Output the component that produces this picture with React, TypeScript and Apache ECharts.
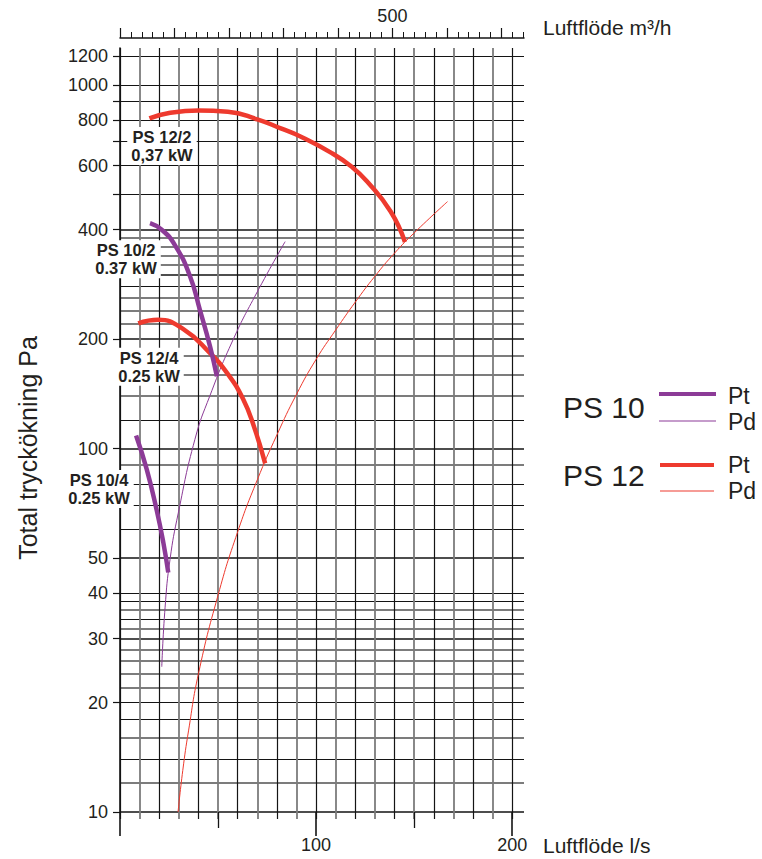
import React, { useEffect, useRef } from "react";
import * as echarts from "echarts";

// ---- data (l/s, Pa) ----
const ps12_2_pt = [[15, 810], [25, 838], [40, 852], [55, 845], [70, 805], [82, 760], [92, 722], [108, 650], [118, 597], [126, 543], [138, 449], [145.3, 370]];
const ps12_4_pt = [[9.3, 221], [19.5, 226], [32.3, 213], [45.9, 183], [55.1, 160], [62.7, 137], [68.3, 115], [74, 91]];
const ps12_pd = [[29.6, 10], [32, 13], [35, 16.8], [40, 24], [50, 39.5], [60, 59], [70, 82], [80, 109], [90, 141], [100, 176], [110, 212], [120, 253], [130, 298], [140, 345], [150, 392], [167, 478]];
const ps10_2_pt = [[15.3, 417], [21.3, 400], [28, 363], [35.7, 298], [40.8, 240], [45.9, 191], [49.4, 158]];
const ps10_4_pt = [[8.2, 108.7], [13.6, 87.8], [18.7, 67.7], [22.1, 55.1], [24.6, 45.6]];
const ps10_pd = [[21.3, 25.1], [23, 36.6], [25.5, 49.5], [29.7, 66.4], [38.2, 106], [45.9, 140], [57.8, 200], [69.7, 268], [84.2, 371]];

const curveLabels = ["PS 12/2\n0,37 kW", "PS 10/2\n0.37 kW", "PS 12/4\n0.25 kW", "PS 10/4\n0.25 kW"];

// ---- axis ticks / grid values ----
const yLabelValues = [10, 20, 30, 40, 50, 100, 200, 400, 600, 800, 1000, 1200];
const yTickValues = [10, 20, 30, 40, 50, 100, 200, 400, 500, 600, 700, 800, 900, 1000, 1200];
const yGridDark = [10, 30, 50, 100, 200, 300, 400];
const yGridBlack = [14, 18, 20, 34, 38, 40, 60, 70, 80, 120, 280, 500, 600, 700, 800, 900, 1000, 1200];
const yGridGray = [12, 16, 22, 24, 26, 28, 32, 36, 90, 140, 160, 180, 220, 240, 260, 320, 340, 360, 380];

const flowBlack = [0, 20, 40, 60, 80, 100, 120, 140, 160, 180, 200];
const flowGray = [10, 30, 50, 70, 90, 110, 130, 150, 170, 190];
const flowMid = [50, 150];
const flowMajor = [0, 100, 200];
const flowLabels = [100, 200];
const m3hMajor = [0, 100, 200, 300, 400, 500, 600, 700];
const m3hMinor = [20, 40, 60, 80, 120, 140, 160, 180, 220, 240, 260, 280, 320, 340, 360, 380, 420, 440, 460, 480, 520, 540, 560, 580, 620, 640, 660, 680, 720, 740];
const m3hLabels = [500];

const FLOW_MAX = 206;
const Y_MIN = 10;
const Y_MAX = 1265;

const FONT = '"Liberation Sans", Arial, Helvetica, sans-serif';
const TXT = "#231f20";
const RED = "#ee3a2e";
const PURPLE = "#8c3b97";
const C_BLACK = "#141414";
const C_GRAY = "#7c7c7c";
const C_DARK = "#4e4e4e";

export default function App() {
  const ref = useRef<HTMLDivElement>(null);
  useEffect(() => {
    if (!ref.current) return;
    const chart = echarts.init(ref.current, null, { renderer: "svg" });

    const yBase = (extra: any) => ({
      type: "log",
      logBase: 10,
      min: Y_MIN,
      max: Y_MAX,
      position: "left",
      axisLine: { show: false, onZero: false },
      axisTick: { show: false },
      axisLabel: { show: false },
      splitLine: { show: false },
      ...extra,
    });
    const xBase = (extra: any) => ({
      type: "value",
      min: 0,
      max: FLOW_MAX,
      position: "bottom",
      axisLine: { show: false, onZero: false },
      axisTick: { show: false },
      axisLabel: { show: false },
      splitLine: { show: false },
      ...extra,
    });

    const labelStyle = {
      show: true,
      position: "inside",
      backgroundColor: "#fff",
      padding: [1, 4],
      fontSize: 16.5,
      lineHeight: 18,
      fontWeight: "bold",
      fontFamily: FONT,
      color: TXT,
    };
    const mp = (coord: number[], text: string, offset: number[] = [0, 0]) => ({
      symbol: "rect",
      symbolSize: 1,
      silent: true,
      data: [
        {
          coord,
          itemStyle: { color: "rgba(0,0,0,0)" },
          label: { ...labelStyle, formatter: text, offset },
        },
      ],
    });

    const line = (name: string, data: number[][], color: string, width: number, markPoint?: any) => ({
      name,
      type: "line",
      data,
      xAxisIndex: 0,
      yAxisIndex: 0,
      showSymbol: false,
      symbol: "none",
      smooth: 0.5,
      lineStyle: { color, width, cap: "butt" },
      itemStyle: { color },
      silent: true,
      z: width > 2 ? 4 : 3,
      ...(markPoint ? { markPoint } : {}),
    });

    chart.setOption({
      animation: false,
      backgroundColor: "#fff",
      grid: { left: 120, right: 238, top: 48, bottom: 47, containLabel: false },
      xAxis: [
        xBase({
          axisTick: { show: true, customValues: flowBlack, length: 7, lineStyle: { color: C_BLACK, width: 1.2 } },
          splitLine: { show: true, lineStyle: { color: C_BLACK, width: 1.2 } },
        }),
        xBase({
          axisTick: { show: true, customValues: flowGray, length: 7, lineStyle: { color: C_GRAY, width: 1.8 } },
          splitLine: { show: true, lineStyle: { color: C_GRAY, width: 1.8 } },
        }),
        xBase({
          axisTick: { show: true, customValues: flowMid, length: 16, lineStyle: { color: C_BLACK, width: 1.3 } },
        }),
        xBase({
          axisTick: { show: true, customValues: flowMajor, length: 24, lineStyle: { color: C_BLACK, width: 1.6 } },
          axisLabel: { show: true, customValues: flowLabels, margin: 24, fontSize: 18, fontFamily: FONT, color: TXT },
          name: "Luftflöde l/s",
          nameLocation: "end",
          nameGap: 19,
          nameTextStyle: { fontSize: 21, fontFamily: FONT, color: TXT, verticalAlign: "top", align: "left", padding: [23, 0, 0, 0] },
        }),
        {
          type: "value",
          min: 0,
          max: FLOW_MAX * 3.6,
          position: "top",
          offset: 10,
          axisLine: { show: true, onZero: false, lineStyle: { color: C_BLACK, width: 1.5 } },
          axisTick: { show: true, customValues: m3hMajor, length: 10, lineStyle: { color: C_BLACK, width: 1.2 } },
          axisLabel: { show: true, customValues: m3hLabels, margin: 13, fontSize: 18, fontFamily: FONT, color: TXT },
          splitLine: { show: false },
          name: "Luftflöde m³/h",
          nameLocation: "end",
          nameGap: 19,
          nameTextStyle: { fontSize: 21, fontFamily: FONT, color: TXT, verticalAlign: "bottom", align: "left", padding: [0, 0, 0, 0] },
        },
        {
          type: "value",
          min: 0,
          max: FLOW_MAX * 3.6,
          position: "top",
          offset: 10,
          axisLine: { show: false, onZero: false },
          axisTick: { show: true, customValues: m3hMinor, length: 6, lineStyle: { color: C_BLACK, width: 1 } },
          axisLabel: { show: false },
          splitLine: { show: false },
        },
      ],
      yAxis: [
        yBase({
          axisTick: { show: false, customValues: yGridDark },
          splitLine: { show: true, lineStyle: { color: C_DARK, width: 2.2 } },
        }),
        yBase({
          axisTick: { show: false, customValues: yGridGray },
          splitLine: { show: true, lineStyle: { color: C_GRAY, width: 1.8 } },
        }),
        yBase({
          axisTick: { show: false, customValues: yGridBlack },
          splitLine: { show: true, lineStyle: { color: C_BLACK, width: 1.2 } },
        }),
        yBase({
          axisLine: { show: true, onZero: false, lineStyle: { color: C_BLACK, width: 1.6 } },
          axisTick: { show: true, customValues: yTickValues, length: 7, lineStyle: { color: C_BLACK, width: 1.2 } },
          axisLabel: {
            show: true,
            customValues: yLabelValues,
            margin: 12,
            fontSize: 18,
            fontFamily: FONT,
            color: TXT,
            formatter: (v: number) => String(Math.round(v)),
          },
          name: "Total tryckökning Pa",
          nameLocation: "middle",
          nameGap: 80,
          nameTextStyle: { fontSize: 25, fontFamily: FONT, color: TXT, padding: [0, 36, 0, 0] },
        }),
      ],
      series: [
        line("PS 10 Pd", ps10_pd, PURPLE, 1),
        line("PS 12 Pd", ps12_pd, RED, 1),
        line("PS 12/2 Pt", ps12_2_pt, RED, 4.5, mp([21.4, 680], curveLabels[0])),
        line("PS 12/4 Pt", ps12_4_pt, RED, 4.5, mp([14.8, 168], curveLabels[2])),
        line("PS 10/2 Pt", ps10_2_pt, PURPLE, 4.5, mp([3.1, 332], curveLabels[1])),
        line("PS 10/4 Pt", ps10_4_pt, PURPLE, 4.5, mp([0, 77.4], curveLabels[3], [-21, 0])),
      ],
      graphic: [
        { type: "text", x: 563, y: 407, style: { text: "PS 10", fontSize: 30, fontFamily: FONT, fill: TXT, align: "left", verticalAlign: "middle" }, z: 10 },
        { type: "line", shape: { x1: 659, y1: 394, x2: 716, y2: 394 }, style: { stroke: PURPLE, lineWidth: 4 }, z: 10 },
        { type: "line", shape: { x1: 659, y1: 421, x2: 716, y2: 421 }, style: { stroke: PURPLE, lineWidth: 1.2 }, z: 10 },
        { type: "text", x: 728, y: 396, style: { text: "Pt", fontSize: 23, fontFamily: FONT, fill: TXT, align: "left", verticalAlign: "middle" }, z: 10 },
        { type: "text", x: 728, y: 422, style: { text: "Pd", fontSize: 23, fontFamily: FONT, fill: TXT, align: "left", verticalAlign: "middle" }, z: 10 },
        { type: "text", x: 563, y: 475, style: { text: "PS 12", fontSize: 30, fontFamily: FONT, fill: TXT, align: "left", verticalAlign: "middle" }, z: 10 },
        { type: "line", shape: { x1: 660, y1: 465, x2: 714, y2: 465 }, style: { stroke: RED, lineWidth: 4 }, z: 10 },
        { type: "line", shape: { x1: 660, y1: 491, x2: 714, y2: 491 }, style: { stroke: RED, lineWidth: 1.2 }, z: 10 },
        { type: "text", x: 728, y: 465, style: { text: "Pt", fontSize: 23, fontFamily: FONT, fill: TXT, align: "left", verticalAlign: "middle" }, z: 10 },
        { type: "text", x: 728, y: 491, style: { text: "Pd", fontSize: 23, fontFamily: FONT, fill: TXT, align: "left", verticalAlign: "middle" }, z: 10 },
      ],
    });
    return () => chart.dispose();
  }, []);
  return <div ref={ref} style={{ position: "absolute", left: 0, top: 0, width: 762, height: 859, background: "#fff" }} />;
}
